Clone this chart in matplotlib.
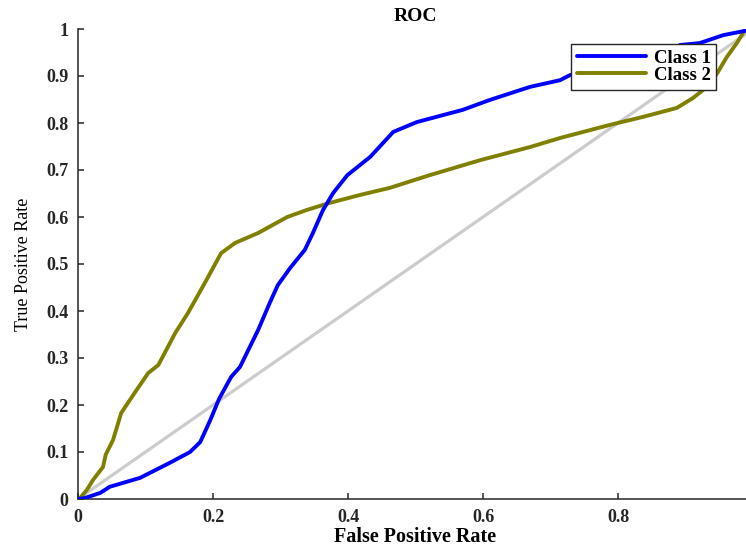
import matplotlib
matplotlib.use("Agg")
import matplotlib.pyplot as plt

# ---- data ----
class1_fpr = [0.0, 0.010, 0.033, 0.047, 0.092, 0.136, 0.166, 0.181, 0.196, 0.209, 0.227, 0.240,
              0.267, 0.284, 0.296, 0.314, 0.336, 0.348, 0.363, 0.378, 0.399, 0.433, 0.467, 0.502,
              0.570, 0.610, 0.670, 0.714, 0.729, 0.744, 0.803, 0.862, 0.892, 0.921, 0.956, 0.981, 1.0]
class1_tpr = [0.0, 0.002, 0.013, 0.026, 0.045, 0.077, 0.100, 0.121, 0.168, 0.213, 0.260, 0.281,
              0.360, 0.417, 0.455, 0.491, 0.530, 0.566, 0.615, 0.651, 0.689, 0.728, 0.781, 0.802,
              0.828, 0.849, 0.877, 0.891, 0.902, 0.906, 0.923, 0.945, 0.966, 0.970, 0.987, 0.994, 1.0]

class2_fpr = [0.0, 0.003, 0.013, 0.022, 0.037, 0.041, 0.052, 0.064, 0.084, 0.104, 0.119, 0.144,
              0.163, 0.188, 0.212, 0.233, 0.267, 0.296, 0.310, 0.339, 0.373, 0.418, 0.462, 0.521,
              0.596, 0.670, 0.714, 0.788, 0.837, 0.887, 0.911, 0.932, 0.947, 0.961, 0.976, 0.988, 1.0]
class2_tpr = [0.0, 0.002, 0.019, 0.040, 0.068, 0.094, 0.126, 0.183, 0.226, 0.268, 0.285, 0.353,
              0.396, 0.460, 0.523, 0.545, 0.566, 0.589, 0.600, 0.615, 0.630, 0.647, 0.662, 0.689,
              0.721, 0.749, 0.768, 0.796, 0.813, 0.832, 0.853, 0.877, 0.906, 0.940, 0.970, 0.998, 1.0]

chance = [0.0, 1.0]

series_labels = ["Class 1", "Class 2"]
xticks = [0, 0.2, 0.4, 0.6, 0.8, 1]
yticks = [0, 0.1, 0.2, 0.3, 0.4, 0.5, 0.6, 0.7, 0.8, 0.9, 1]
xtick_labels = ["0", "0.2", "0.4", "0.6", "0.8", "1"]
ytick_labels = ["0", "0.1", "0.2", "0.3", "0.4", "0.5", "0.6", "0.7", "0.8", "0.9", "1"]

plt.rcParams['font.family'] = ['Liberation Serif', 'DejaVu Serif']

W, H = 746, 546
fig = plt.figure(figsize=(W / 100, H / 100), dpi=100)
ax = fig.add_axes([78 / W, 47 / H, 675 / W, 470 / H])

ax.plot(chance, chance, color='#cccccc', lw=2.3, zorder=1)
ax.plot(class1_fpr, class1_tpr, color='#0000ff', lw=2.8, label=series_labels[0], zorder=3,
        solid_joinstyle='round', solid_capstyle='round')
ax.plot(class2_fpr, class2_tpr, color='#808000', lw=2.8, label=series_labels[1], zorder=2,
        solid_joinstyle='round', solid_capstyle='round')

ax.set_xlim(0, 1)
ax.set_ylim(0, 1)
ax.set_xticks(xticks)
ax.set_xticklabels(xtick_labels)
ax.set_yticks(yticks)
ax.set_yticklabels(ytick_labels)

for s in ['top', 'right']:
    ax.spines[s].set_visible(False)
for s in ['left', 'bottom']:
    ax.spines[s].set_color('#262626')
    ax.spines[s].set_linewidth(1.1)

ax.tick_params(direction='in', length=4, width=1.1, colors='#262626',
               labelsize=13, pad=7)
for lab in ax.get_xticklabels() + ax.get_yticklabels():
    lab.set_fontweight('bold')
    lab.set_color('#262626')

ax.set_title("ROC", fontsize=14, fontweight='bold', pad=6)
ax.set_xlabel("False Positive Rate", fontsize=14.5, fontweight='bold', labelpad=1)
ax.set_ylabel("True Positive Rate", fontsize=13, labelpad=10)

leg = ax.legend(loc='upper left', bbox_to_anchor=(571 / W, (H - 44) / H),
                bbox_transform=fig.transFigure, borderaxespad=0,
                fancybox=False, framealpha=1, edgecolor='#262626',
                prop={'weight': 'bold', 'size': 13.5},
                handlelength=3.7, handletextpad=0.4, labelspacing=0.0,
                borderpad=0.3)
leg.get_frame().set_linewidth(1.0)
leg.set_zorder(5)

fig.savefig("out.png", dpi=100)
